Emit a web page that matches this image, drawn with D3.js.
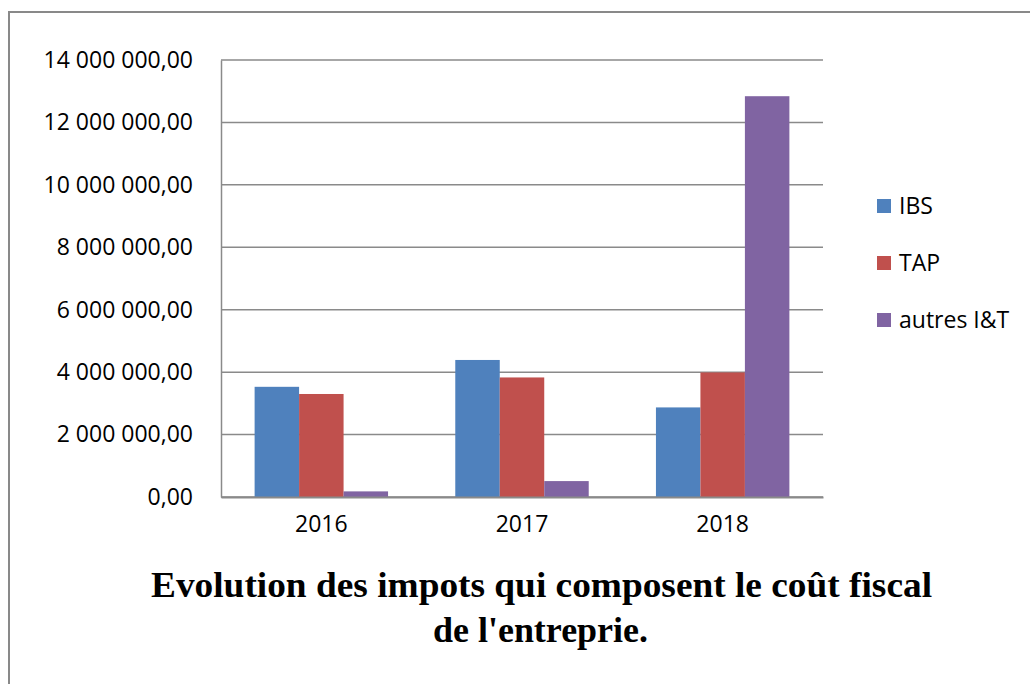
<!DOCTYPE html>
<html>
<head>
<meta charset="utf-8">
<script src="https://cdn.jsdelivr.net/npm/d3@7"></script>
<style>
  body { margin: 0; background: #fff; }
  svg { display: block; }
</style>
</head>
<body>
<div id="chart"></div>
<script>
// data
const years = ["2016", "2017", "2018"];
const series = ["IBS", "TAP", "autres I&T"];
const ibs = [3530000, 4390000, 2870000];
const tap = [3300000, 3830000, 3990000];
const autres = [180000, 510000, 12840000];
const yTicks = [0, 2000000, 4000000, 6000000, 8000000, 10000000, 12000000, 14000000];
const colors = ["#4F81BD", "#C0504D", "#8064A2"];
const titleLines = ["Evolution des impots qui composent le coût fiscal", "de l'entreprie."];

const values = [ibs, tap, autres];
const rows = years.map((yr, i) => ({ year: yr, vals: series.map((s, j) => ({ key: s, value: values[j][i], idx: j })) }));

const w = 1030, h = 684;
const plotLeft = 221, plotRight = 823, plotTop = 60, plotBottom = 497;
const labelFont = "'Open Sans', sans-serif";

const svg = d3.select("#chart").append("svg")
  .attr("width", w)
  .attr("height", h);

// outer frame
svg.append("rect")
  .attr("x", 9).attr("y", 12)
  .attr("width", w + 20).attr("height", h + 20)
  .attr("fill", "#fff")
  .attr("stroke", "#898989")
  .attr("stroke-width", 2);

const x0 = d3.scaleBand().domain(years).range([plotLeft, plotRight]);
const bw = x0.bandwidth();
const x1 = d3.scaleBand().domain(series).range([bw * 0.1675, bw * 0.8325]);
const y = d3.scaleLinear().domain([0, 14000000]).range([plotBottom, plotTop]);

// number format like "14 000 000,00"
const fmt = v => d3.format(",.2f")(v).replace(/,/g, " ").replace(".", ",");

// gridlines
svg.append("g")
  .selectAll("line")
  .data(yTicks)
  .join("line")
  .attr("x1", plotLeft).attr("x2", plotRight)
  .attr("y1", d => y(d)).attr("y2", d => y(d))
  .attr("stroke", "#8a8a8a")
  .attr("stroke-width", 1.5);

// y axis
const yAxis = d3.axisLeft(y).tickValues(yTicks).tickFormat(fmt).tickSize(0).tickPadding(28);
const yg = svg.append("g").attr("transform", `translate(${plotLeft},0)`).call(yAxis);
yg.select(".domain").attr("stroke", "#8a8a8a").attr("stroke-width", 1.5);
yg.selectAll("text")
  .style("font-family", labelFont)
  .style("font-size", "23px")
  .attr("fill", "#000");

// bars
const groups = svg.append("g")
  .selectAll("g")
  .data(rows)
  .join("g")
  .attr("transform", d => `translate(${x0(d.year)},0)`);

groups.selectAll("rect")
  .data(d => d.vals)
  .join("rect")
  .attr("x", d => x1(d.key))
  .attr("y", d => y(d.value))
  .attr("width", x1.bandwidth())
  .attr("height", d => y(0) - y(d.value))
  .attr("fill", d => colors[d.idx]);

// x axis
const xAxis = d3.axisBottom(x0).tickSize(0).tickPadding(19);
const xg = svg.append("g").attr("transform", `translate(0,${plotBottom})`).call(xAxis);
xg.select(".domain").attr("stroke", "#8a8a8a").attr("stroke-width", 2);
xg.selectAll("text")
  .style("font-family", labelFont)
  .style("font-size", "23px")
  .attr("fill", "#000");

// legend
const legend = svg.append("g").attr("transform", "translate(877,199)");
const li = legend.selectAll("g")
  .data(series)
  .join("g")
  .attr("transform", (d, i) => `translate(0,${i * 57})`);
li.append("rect")
  .attr("width", 14).attr("height", 14)
  .attr("fill", (d, i) => colors[i]);
li.append("text")
  .attr("x", 22).attr("y", 7)
  .attr("dy", "0.35em")
  .style("font-family", labelFont)
  .style("font-size", "23px")
  .text(d => d);

// title, two lines, squeezed to the width seen in the picture
const tpos = [{ x: 151, y: 597, len: 781 }, { x: 433, y: 642, len: 215 }];
svg.append("g")
  .selectAll("text")
  .data(titleLines)
  .join("text")
  .attr("x", (d, i) => tpos[i].x)
  .attr("y", (d, i) => tpos[i].y)
  .attr("textLength", (d, i) => tpos[i].len)
  .attr("lengthAdjust", "spacingAndGlyphs")
  .style("font-family", "'Liberation Serif', 'Times New Roman', serif")
  .style("font-weight", "bold")
  .style("font-size", "36px")
  .text(d => d);
</script>
</body>
</html>
